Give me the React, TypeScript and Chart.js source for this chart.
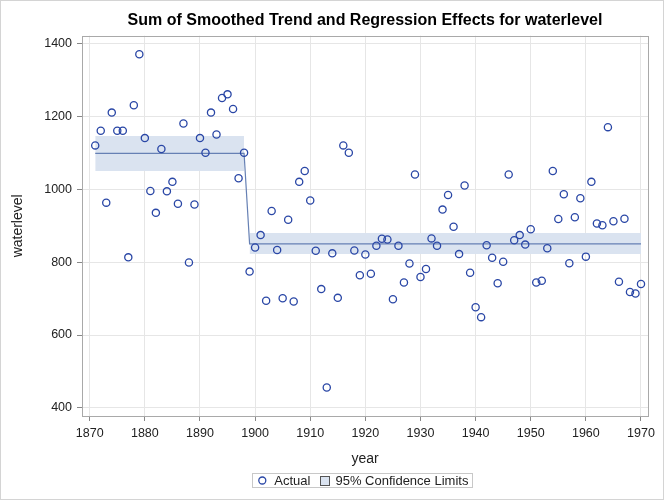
import React, { useEffect, useRef } from "react";
import { Chart, registerables } from "chart.js";

Chart.register(...registerables);

const years = [
  1871, 1872, 1873, 1874, 1875, 1876, 1877, 1878, 1879, 1880,
  1881, 1882, 1883, 1884, 1885, 1886, 1887, 1888, 1889, 1890,
  1891, 1892, 1893, 1894, 1895, 1896, 1897, 1898, 1899, 1900,
  1901, 1902, 1903, 1904, 1905, 1906, 1907, 1908, 1909, 1910,
  1911, 1912, 1913, 1914, 1915, 1916, 1917, 1918, 1919, 1920,
  1921, 1922, 1923, 1924, 1925, 1926, 1927, 1928, 1929, 1930,
  1931, 1932, 1933, 1934, 1935, 1936, 1937, 1938, 1939, 1940,
  1941, 1942, 1943, 1944, 1945, 1946, 1947, 1948, 1949, 1950,
  1951, 1952, 1953, 1954, 1955, 1956, 1957, 1958, 1959, 1960,
  1961, 1962, 1963, 1964, 1965, 1966, 1967, 1968, 1969, 1970,
];

const waterlevel = [
  1120, 1160, 963, 1210, 1160, 1160, 813, 1230, 1370, 1140,
  995, 935, 1110, 994, 1020, 960, 1180, 799, 958, 1140,
  1100, 1210, 1150, 1250, 1260, 1220, 1030, 1100, 774, 840,
  874, 694, 940, 833, 701, 916, 692, 1020, 1050, 969,
  831, 726, 456, 824, 702, 1120, 1100, 832, 764, 821,
  768, 845, 864, 862, 698, 845, 744, 796, 1040, 759,
  781, 865, 845, 944, 984, 897, 822, 1010, 771, 676,
  649, 846, 812, 742, 801, 1040, 860, 874, 848, 890,
  744, 749, 838, 1050, 918, 986, 797, 923, 975, 815,
  1020, 906, 901, 1170, 912, 746, 919, 718, 714, 740,
];

const trendYears = [1871, 1898, 1899, 1970];
const trendValues = [1098, 1098, 850, 850];

const band1Years = [1871, 1898];
const band1Upper = [1146, 1146];
const band1Lower = [1050, 1050];

const band2Years = [1899, 1970];
const band2Upper = [880, 880];
const band2Lower = [822, 822];

const xTicks = [1870, 1880, 1890, 1900, 1910, 1920, 1930, 1940, 1950, 1960, 1970];
const yTicks = [400, 600, 800, 1000, 1200, 1400];

const titleText = "Sum of Smoothed Trend and Regression Effects for waterlevel";
const legendLabels = ["Actual", "95% Confidence Limits"];

const FONT = "'Liberation Sans', Arial, Helvetica, sans-serif";
const POINT_COLOR = "#2a47a6";
const LINE_COLOR = "#6680b4";
const BAND_COLOR = "#dae3f0";
const FRAME_COLOR = "#a9a9a9";
const GRID_COLOR = "#e6e6e6";
const TEXT_COLOR = "#222";

const pairs = (xs: number[], ys: number[]) => xs.map((x, i) => ({ x, y: ys[i] }));

const decorPlugin = {
  id: "decor",
  afterDraw(chart: any) {
    const { ctx, chartArea } = chart;
    ctx.save();
    // plot frame
    ctx.strokeStyle = FRAME_COLOR;
    ctx.lineWidth = 1;
    ctx.strokeRect(
      Math.round(chartArea.left) + 0.5,
      Math.round(chartArea.top) + 0.5,
      Math.round(chartArea.right - chartArea.left),
      Math.round(chartArea.bottom - chartArea.top)
    );
    // legend
    ctx.font = `13px ${FONT}`;
    ctx.textBaseline = "middle";
    const w1 = ctx.measureText(legendLabels[0]).width;
    const w2 = ctx.measureText(legendLabels[1]).width;
    const padL = 6.3;
    const circleW = 8;
    const gap1 = 8;
    const gapItems = 10;
    const squareW = 9;
    const gap2 = 6;
    const padR = 4;
    const total = padL + circleW + gap1 + w1 + gapItems + squareW + gap2 + w2 + padR;
    const cx = 362;
    const boxLeft = Math.round(cx - total / 2);
    const boxTop = 473;
    const boxH = 14;
    const cy = boxTop + boxH / 2 + 0.5;
    ctx.strokeStyle = "#c8c8c8";
    ctx.strokeRect(boxLeft + 0.5, boxTop + 0.5, Math.round(total), boxH);
    let x = boxLeft + padL;
    ctx.beginPath();
    ctx.arc(x + circleW / 2, cy, 3.5, 0, Math.PI * 2);
    ctx.strokeStyle = POINT_COLOR;
    ctx.lineWidth = 1.3;
    ctx.stroke();
    x += circleW + gap1;
    ctx.fillStyle = TEXT_COLOR;
    ctx.textAlign = "left";
    ctx.fillText(legendLabels[0], x, cy + 0.5);
    x += w1 + gapItems;
    const sx = Math.round(x) + 0.5;
    ctx.fillStyle = BAND_COLOR;
    ctx.fillRect(sx, Math.round(cy - 4.5) + 0.5, squareW, squareW);
    ctx.strokeStyle = "#555";
    ctx.lineWidth = 1;
    ctx.strokeRect(sx, Math.round(cy - 4.5) + 0.5, squareW, squareW);
    x += squareW + gap2;
    ctx.fillStyle = TEXT_COLOR;
    ctx.fillText(legendLabels[1], x, cy + 0.5);
    // outer border
    ctx.strokeStyle = "#d4d4d4";
    ctx.lineWidth = 1;
    ctx.strokeRect(0.5, 0.5, chart.width - 3, chart.height - 1);
    ctx.restore();
  },
};

export default function App() {
  const canvasRef = useRef<HTMLCanvasElement | null>(null);

  useEffect(() => {
    document.body.style.margin = "0";
    const canvas = canvasRef.current;
    if (!canvas) return;
    const chart = new Chart(canvas, {
      type: "line",
      data: {
        datasets: [
          {
            label: legendLabels[0],
            data: pairs(years, waterlevel),
            showLine: false,
            pointStyle: "circle",
            pointRadius: 3.6,
            pointBorderWidth: 1.3,
            pointBorderColor: POINT_COLOR,
            pointBackgroundColor: "rgba(0,0,0,0)",
            borderColor: POINT_COLOR,
          },
          {
            label: "Trend",
            data: pairs(trendYears, trendValues),
            borderColor: LINE_COLOR,
            borderWidth: 1.2,
            pointRadius: 0,
            fill: false,
            tension: 0,
          },
          {
            label: legendLabels[1],
            data: pairs(band1Years, band1Upper),
            borderWidth: 0,
            borderColor: "rgba(0,0,0,0)",
            backgroundColor: BAND_COLOR,
            pointRadius: 0,
            fill: "+1",
          },
          {
            label: "lower1",
            data: pairs(band1Years, band1Lower),
            borderWidth: 0,
            borderColor: "rgba(0,0,0,0)",
            pointRadius: 0,
            fill: false,
          },
          {
            label: "upper2",
            data: pairs(band2Years, band2Upper),
            borderWidth: 0,
            borderColor: "rgba(0,0,0,0)",
            backgroundColor: BAND_COLOR,
            pointRadius: 0,
            fill: "+1",
          },
          {
            label: "lower2",
            data: pairs(band2Years, band2Lower),
            borderWidth: 0,
            borderColor: "rgba(0,0,0,0)",
            pointRadius: 0,
            fill: false,
          },
        ],
      },
      options: {
        responsive: false,
        animation: false,
        events: [],
        layout: { padding: { left: 0, right: 18, top: 0, bottom: 32 } },
        plugins: {
          legend: { display: false },
          tooltip: { enabled: false },
          title: {
            display: true,
            text: titleText,
            fullSize: false,
            color: "#000",
            font: { family: FONT, size: 16, weight: "bold" },
            padding: { top: 11, bottom: 5.5 },
          },
        },
        scales: {
          x: {
            type: "linear",
            min: 1868.6,
            max: 1971.27,
            afterBuildTicks: (s: any) => {
              s.ticks = xTicks.map((v) => ({ value: v }));
            },
            afterFit: (s: any) => {
              s.height = 52;
            },
            ticks: {
              callback: (v: any) => String(v),
              color: TEXT_COLOR,
              font: { family: FONT, size: 12.5 },
              padding: 5,
              maxRotation: 0,
              autoSkip: false,
            },
            grid: {
              color: GRID_COLOR,
              tickColor: "#888",
              tickLength: 5,
              drawTicks: true,
            },
            border: { display: false },
            title: {
              display: true,
              text: "year",
              color: TEXT_COLOR,
              font: { family: FONT, size: 14 },
              padding: { top: 0, bottom: 0 },
            },
          },
          y: {
            type: "linear",
            min: 378,
            max: 1420.8,
            afterBuildTicks: (s: any) => {
              s.ticks = yTicks.map((v) => ({ value: v }));
            },
            afterFit: (s: any) => {
              s.width = 82;
            },
            ticks: {
              callback: (v: any) => String(v),
              color: TEXT_COLOR,
              font: { family: FONT, size: 12.5 },
              padding: 5,
              autoSkip: false,
            },
            grid: {
              color: GRID_COLOR,
              tickColor: "#888",
              tickLength: 5,
              drawTicks: true,
            },
            border: { display: false },
            title: {
              display: true,
              text: "waterlevel",
              color: TEXT_COLOR,
              font: { family: FONT, size: 14 },
              padding: { top: 10, bottom: 0 },
            },
          },
        },
      },
      plugins: [decorPlugin],
    } as any);
    return () => chart.destroy();
  }, []);

  return (
    <div style={{ width: 666, height: 500, position: "relative" }}>
      <canvas ref={canvasRef} width={666} height={500} style={{ width: 666, height: 500, display: "block" }} />
    </div>
  );
}
